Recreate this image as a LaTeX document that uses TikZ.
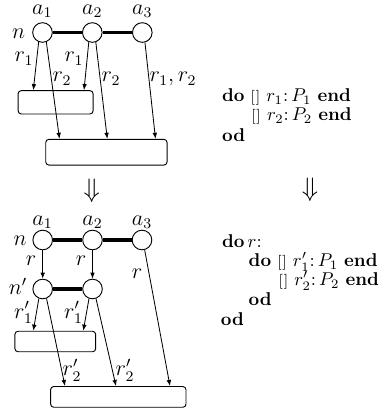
\documentclass[tikz,border=0pt]{standalone}
\usetikzlibrary{arrows.meta}
\newcommand{\gbox}{{\footnotesize[\kern0.4pt]}}
\begin{document}
\begin{tikzpicture}[x=0.54pt, y=-0.54pt,
  circ/.style={circle, draw, minimum size=10.6pt, inner sep=0pt, line width=0.5pt},
  boxn/.style={draw, rounded corners=1.7pt, inner sep=0pt, line width=0.5pt},
  arr/.style={-{Latex[length=3.3pt,width=2.5pt]}, line width=0.45pt},
  bar/.style={line width=1.8pt},
  lab/.style={inner sep=0pt, font=\large, anchor=base},
  code/.style={anchor=base west, inner sep=0pt}]
\useasboundingbox (0,0) rectangle (386,411);
% ---------- top graph ----------
\node[circ] (a1) at (42.5,32.5) {};
\node[circ] (a2) at (92.3,32.5) {};
\node[circ] (a3) at (142.3,32.5) {};
\draw[bar] (a1) -- (a2);
\draw[bar] (a2) -- (a3);
\node[lab] (la1) at (42.3,14) {$a_1$};
\node[lab] (la2) at (92.3,14) {$a_2$};
\node[lab] (la3) at (142.3,14) {$a_3$};
\node[lab] (ln) at (18.5,38.3) {$n$};
\node[boxn, minimum width=40.5pt, minimum height=12.6pt] (sb) at (55.6,102.3) {};
\node[boxn, minimum width=65.5pt, minimum height=13.9pt] (bb) at (106.4,152.2) {};
\coordinate (t1) at (33.3,0 |- sb.north);
\coordinate (t2) at (84,0 |- sb.north);
\coordinate (t3) at (59.5,0 |- bb.north);
\coordinate (t4) at (107.3,0 |- bb.north);
\coordinate (t5) at (155.5,0 |- bb.north);
\draw[arr] (a1.248) -- (t1);
\draw[arr] (a1.292) -- (t3);
\draw[arr] (a2.250) -- (t2);
\draw[arr] (a2.290) -- (t4);
\draw[arr] (a3.285) -- (t5);
\node[lab] (l1) at (24,61.7) {$r_1$};
\node[lab] (l2) at (62,81.7) {$r_2$};
\node[lab] (l3) at (74,61.7) {$r_1$};
\node[lab] (l4) at (111,81.7) {$r_2$};
\node[lab] (l5) at (173,81.7) {$r_1,r_2$};
% ---------- transformation arrows ----------
\node[inner sep=0pt, font=\Large] (d1) at (91.7,191) {$\Downarrow$};
\node[inner sep=0pt, font=\Large] (d2) at (310,190) {$\Downarrow$};
% ---------- bottom graph ----------
\node[circ] (b1) at (42.7,240) {};
\node[circ] (b2) at (92.5,240) {};
\node[circ] (b3) at (142,240) {};
\node[circ] (c1) at (42.7,289) {};
\node[circ] (c2) at (92.5,289) {};
\draw[bar] (b1) -- (b2);
\draw[bar] (b2) -- (b3);
\draw[bar] (c1) -- (c2);
\node[lab] (lb1) at (42.5,225) {$a_1$};
\node[lab] (lb2) at (92.5,225) {$a_2$};
\node[lab] (lb3) at (142,225) {$a_3$};
\node[lab] (lbn) at (20,245) {$n$};
\node[lab] (lcn) at (18,294.5) {$n'$};
\node[boxn, minimum width=43.6pt, minimum height=11.1pt] (sb2) at (55.3,341.5) {};
\node[boxn, minimum width=73.1pt, minimum height=11.2pt] (bb2) at (118.3,396.9) {};
\draw[arr] (b1) -- (c1);
\draw[arr] (b2) -- (c2);
\coordinate (u1) at (33.3,0 |- sb2.north);
\coordinate (u2) at (83.3,0 |- sb2.north);
\coordinate (u3) at (65,0 |- bb2.north);
\coordinate (u4) at (116,0 |- bb2.north);
\coordinate (u5) at (170,0 |- bb2.north);
\draw[arr] (c1.248) -- (u1);
\draw[arr] (c1.292) -- (u3);
\draw[arr] (c2.250) -- (u2);
\draw[arr] (c2.290) -- (u4);
\draw[arr] (b3.285) -- (u5);
\node[lab] (m1) at (31,265) {$r$};
\node[lab] (m2) at (81,265) {$r$};
\node[lab] (m3) at (137,278) {$r$};
\node[lab] (m4) at (23.5,318) {$r'_1$};
\node[lab] (m5) at (73.5,318) {$r'_1$};
\node[lab] (m6) at (72,375.5) {$r'_2$};
\node[lab] (m7) at (125,375.5) {$r'_2$};
% ---------- programs ----------
\node[code] (p1) at (221.7,101.7) {\textbf{do} \gbox\ $r_1$:\,$P_1$ \textbf{end}};
\node[code] (p2) at (251,120.5) {\gbox\ $r_2$:\,$P_2$ \textbf{end}};
\node[code] (p3) at (221.7,141.7) {\textbf{od}};
\node[code] (q1) at (221.7,247) {\textbf{do}$\,r$:};
\node[code] (q2) at (248.3,266.5) {\textbf{do} \gbox\ $r'_1$:\,$P_1$ \textbf{end}};
\node[code] (q3) at (278.3,285.5) {\gbox\ $r'_2$:\,$P_2$ \textbf{end}};
\node[code] (q4) at (248.3,305) {\textbf{od}};
\node[code] (q5) at (220.5,325) {\textbf{od}};
\end{tikzpicture}
\end{document}
